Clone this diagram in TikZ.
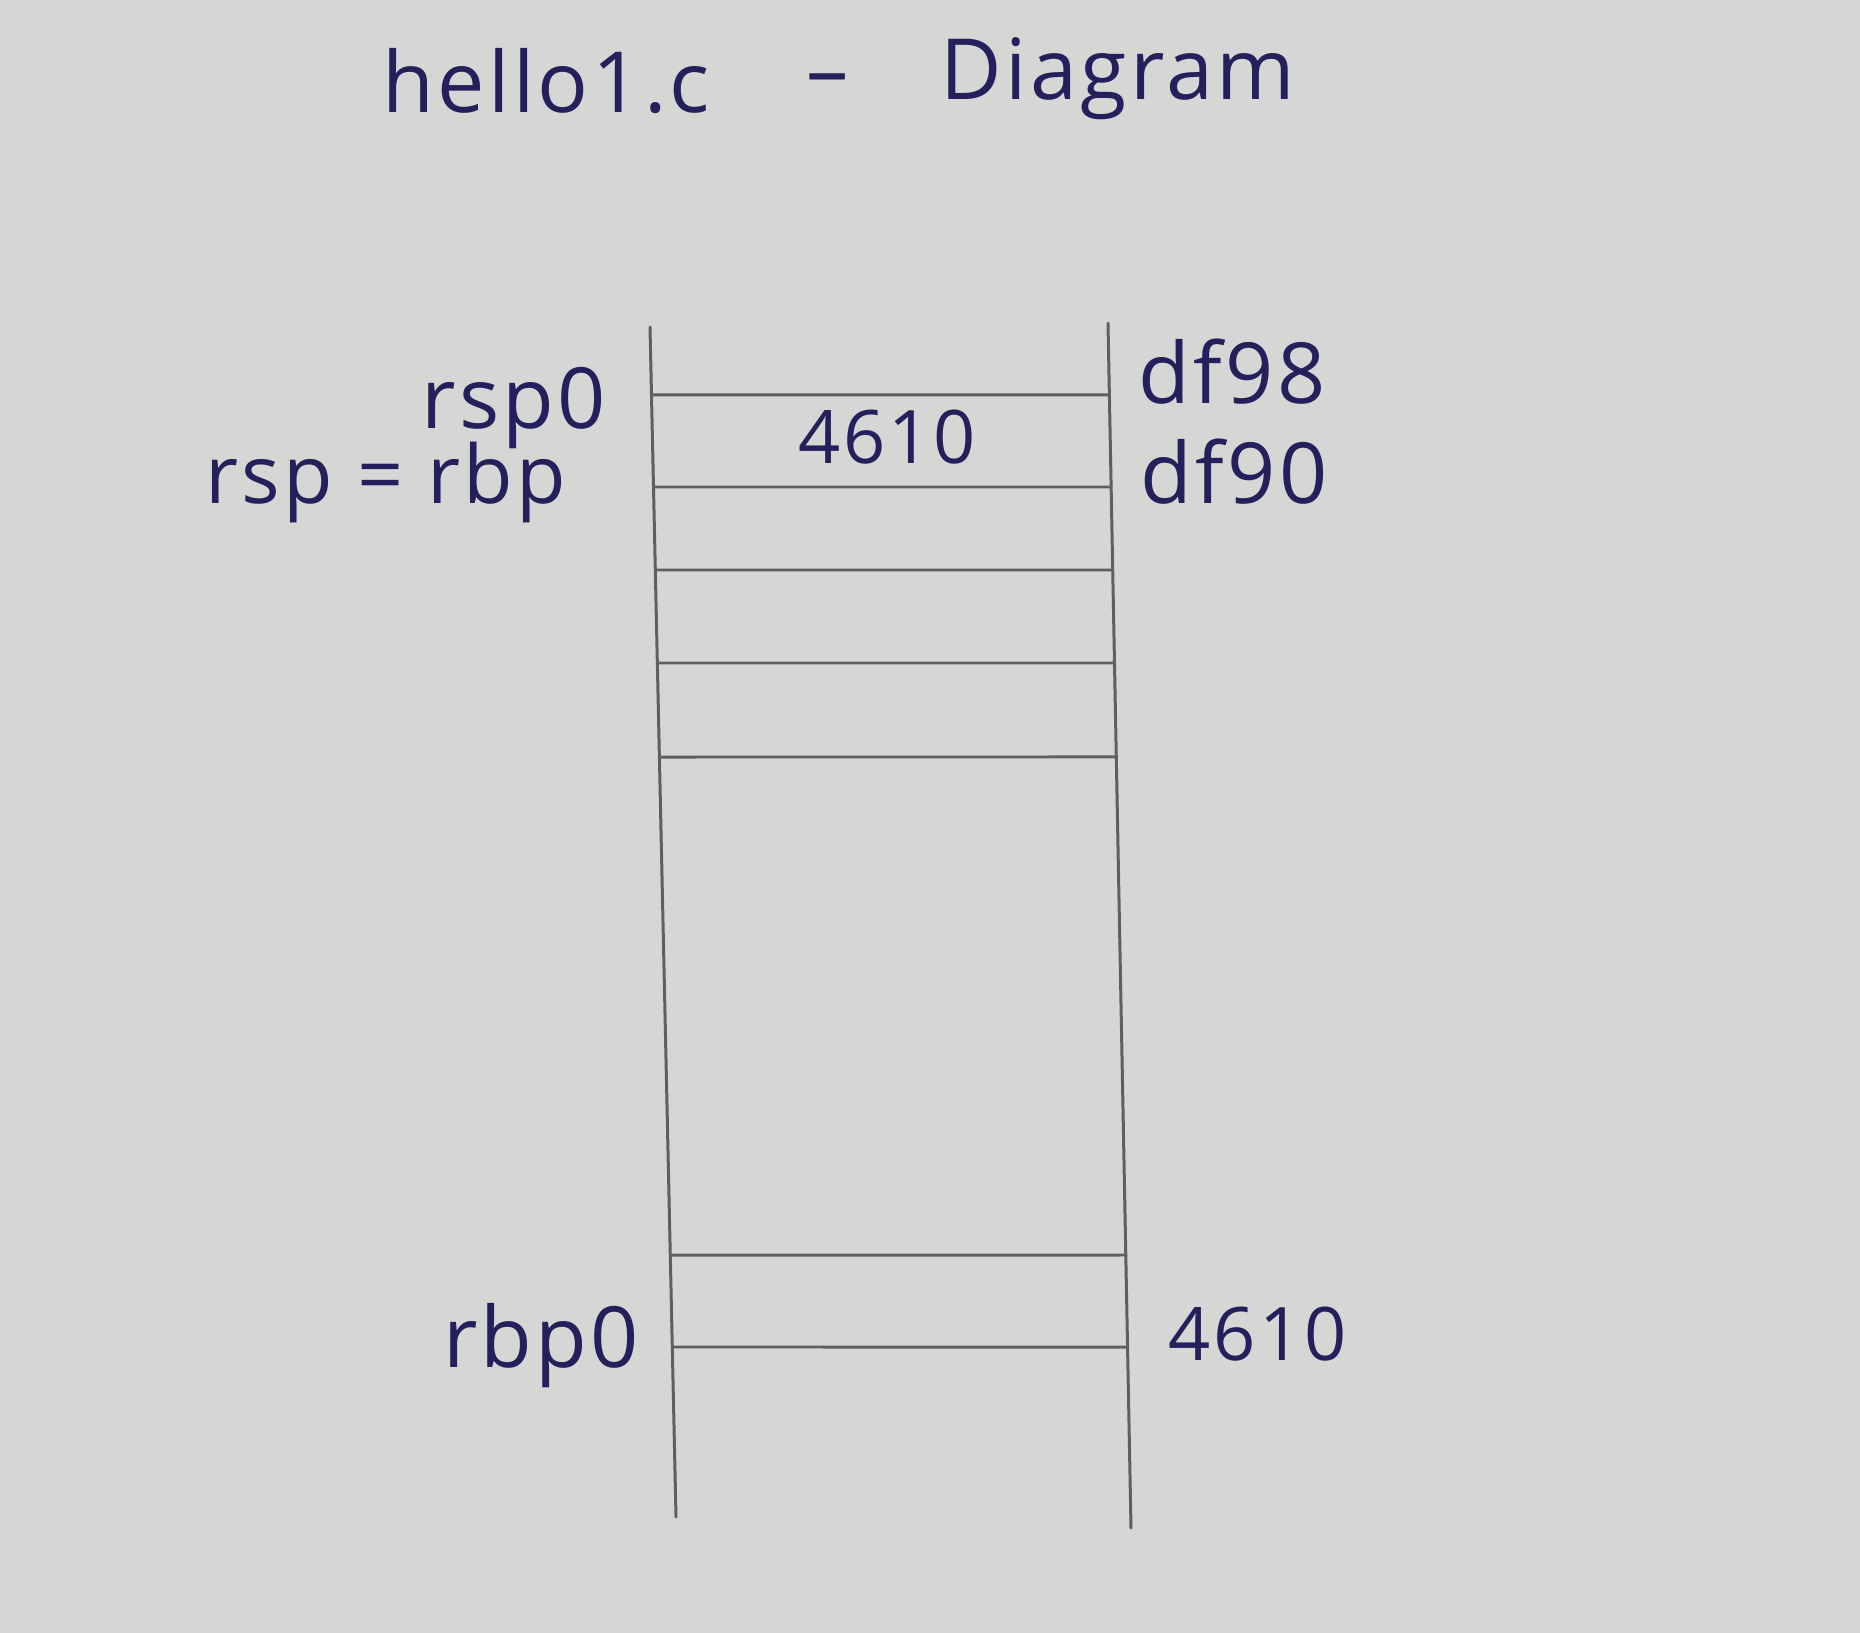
\documentclass[tikz,border=0pt]{standalone}
\usepackage{fontspec}
\usetikzlibrary{calc}
\newfontfamily\handfont[LetterSpace=4]{Open Sans}
\definecolor{paper}{RGB}{214,214,212}
\definecolor{pencil}{RGB}{95,95,95}
\definecolor{ink}{RGB}{35,32,92}
\tikzset{
    every node/.style={inner sep=0mm, text=ink, font=\handfont\fontsize{24}{28}\selectfont}
}
\tikzset{pencilline/.style={draw=pencil, line width=0.85pt, line cap=round}}
\tikzset{digits/.style={font=\handfont\fontsize{21}{24}\selectfont}}

\begin{document}
\begin{tikzpicture}[x=0.01cm, y=-0.01cm]
    \fill[paper] (0,0) rectangle (1860,1633);
    \useasboundingbox (0,0) rectangle (1860,1633);

    \node (ttl) at (382, 112) [anchor=base west] {hello1.c};
    \node (dash) at (828, 100) [anchor=base] {\textendash};
    \node (dgm) at (940, 100) [anchor=base west] {Diagram};

    \coordinate (lt) at (650, 327);
    \coordinate (lb) at (676, 1517);
    \coordinate (rt) at (1108, 323);
    \coordinate (rb) at (1131, 1528);

    \draw[pencilline] (lt) -- (lb);
    \draw[pencilline] (rt) -- (rb);

    \foreach \y [count=\i] in {395, 487, 570, 663, 757, 1255, 1347} {
        \coordinate (sl\i) at ($(lt)!{(\y-327)/1190}!(lb)$);
        \coordinate (sr\i) at ($(rt)!{(\y-323)/1205}!(rb)$);
        \draw[pencilline] (sl\i) -- (sr\i);
    }

    \node (rsp) at (607, 428) [anchor=base east] {rsp0};
    \node (rsprbp) at (567, 503) [anchor=base east, font=\handfont\fontsize{23}{28}\selectfont] {rsp = rbp};
    \node (val) at (887, 463) [anchor=base, digits] {4610};

    \node (top) at (1138, 403) [anchor=base west] {df98};
    \node (nxt) at (1140, 503) [anchor=base west] {df90};

    \node (rbp) at (640, 1367) [anchor=base east] {rbp0};
    \node (ret) at (1168, 1360) [anchor=base west, digits] {4610};
\end{tikzpicture}
\end{document}
